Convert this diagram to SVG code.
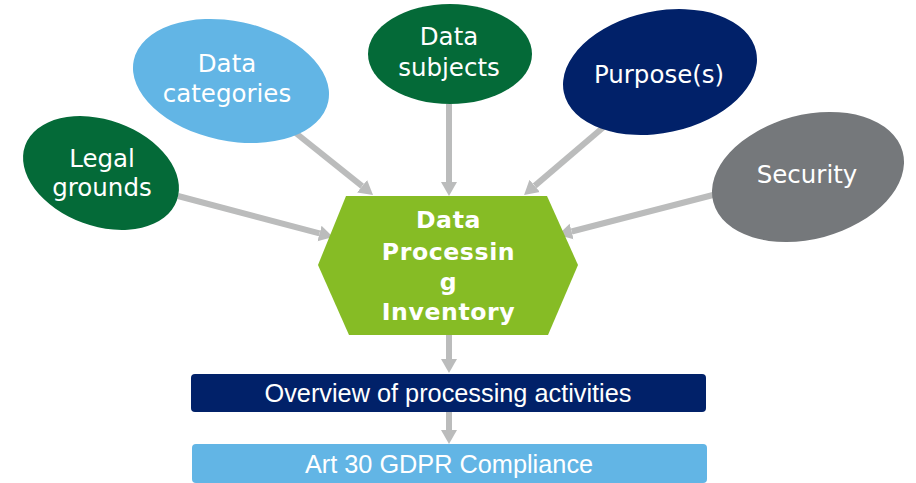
<svg xmlns="http://www.w3.org/2000/svg" width="916" height="483" viewBox="0 0 916 483">
<style>
.lbl{font-family:"DejaVu Sans",Verdana,sans-serif;font-size:24.5px;fill:#fff;text-anchor:middle}
.hex{font-family:"DejaVu Sans",Verdana,sans-serif;font-size:23.6px;font-weight:bold;fill:#fff;text-anchor:middle;letter-spacing:0.6px}
.box{font-family:"Liberation Sans",Arial,sans-serif;font-size:25.3px;fill:#fff;text-anchor:middle}
.conn{stroke:#BBBCBC;stroke-width:6;fill:none;marker-end:url(#ah)}
</style>
<defs>
<marker id="ah" markerUnits="userSpaceOnUse" markerWidth="16" markerHeight="18" refX="0" refY="9" orient="auto">
<path d="M0,1 L14,9 L0,17 z" fill="#BBBCBC"/>
</marker>
</defs>
<rect width="916" height="483" fill="#fff"/>
<g id="connectors">
<line class="conn" x1="178" y1="196" x2="319.5" y2="233.4"/>
<line class="conn" x1="292" y1="130" x2="362.1" y2="186.2"/>
<line class="conn" x1="449" y1="104" x2="449" y2="182"/>
<line class="conn" x1="606" y1="125" x2="534.7" y2="185.9"/>
<line class="conn" x1="713" y1="195" x2="571.6" y2="231.5"/>
<line class="conn" x1="449" y1="335" x2="449" y2="359"/>
<line class="conn" x1="449" y1="412" x2="449" y2="430"/>
</g>
<g id="legal-grounds">
<ellipse cx="101" cy="173" rx="80.7" ry="53" transform="rotate(20 101 173)" fill="#046A38"/>
<text class="lbl" x="102" y="167">Legal</text>
<text class="lbl" x="102" y="196">grounds</text>
</g>
<g id="data-categories">
<ellipse cx="231" cy="81" rx="99.4" ry="59.8" transform="rotate(12 231 81)" fill="#62B5E5"/>
<text class="lbl" x="227" y="72">Data</text>
<text class="lbl" x="227" y="102">categories</text>
</g>
<g id="data-subjects">
<ellipse cx="450" cy="54" rx="82" ry="50" fill="#046A38"/>
<text class="lbl" x="449" y="45">Data</text>
<text class="lbl" x="449" y="76">subjects</text>
</g>
<g id="purposes">
<ellipse cx="660" cy="72" rx="98.3" ry="60.9" transform="rotate(-12 660 72)" fill="#012169"/>
<text class="lbl" x="659" y="83">Purpose(s)</text>
</g>
<g id="security">
<ellipse cx="808" cy="177" rx="98" ry="62" transform="rotate(-15 808 177)" fill="#75787B"/>
<text class="lbl" x="807" y="183">Security</text>
</g>
<g id="dpi">
<polygon points="346,196 547,196 578,265 548,335 349,335 318,265" fill="#86BC25"/>
<text class="hex" x="448.5" y="228">Data</text>
<text class="hex" x="448.5" y="260">Processin</text>
<text class="hex" x="448.5" y="290">g</text>
<text class="hex" x="448.5" y="320">Inventory</text>
</g>
<g id="overview">
<rect x="191" y="374" width="515" height="38" rx="4" fill="#012169"/>
<text class="box" x="448" y="402">Overview of processing activities</text>
</g>
<g id="art30">
<rect x="192" y="444" width="515" height="39" rx="4" fill="#62B5E5"/>
<text class="box" x="449" y="473">Art 30 GDPR Compliance</text>
</g>
</svg>
